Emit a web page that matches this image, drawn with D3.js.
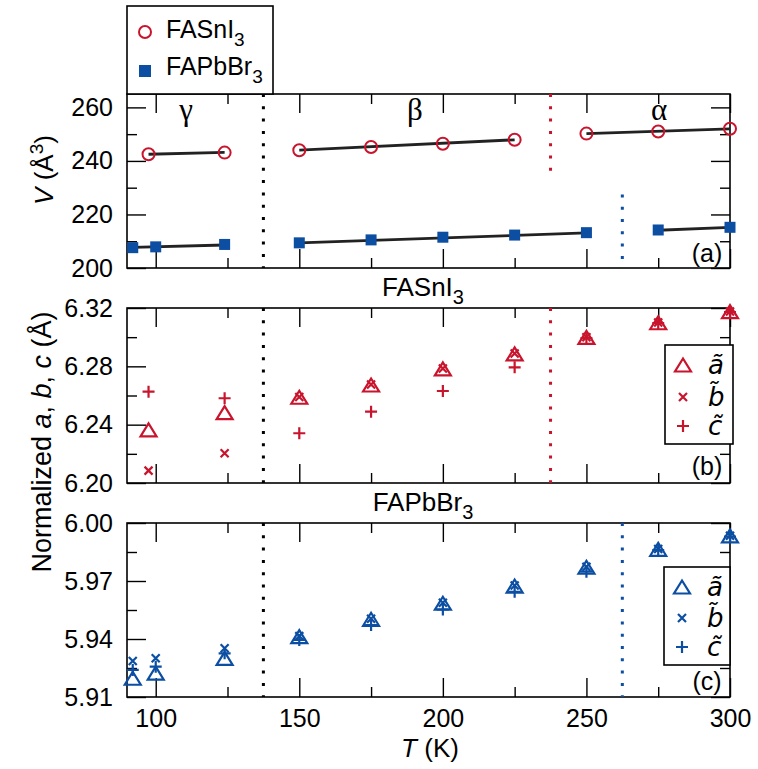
<!DOCTYPE html>
<html>
<head>
<meta charset="utf-8">
<script src="https://cdn.jsdelivr.net/npm/d3@7/dist/d3.min.js"></script>
<style>
  body { margin: 0; background: #fff; }
  text { font-family: "Liberation Sans", Arial, Helvetica, sans-serif; }
</style>
</head>
<body>
<svg id="chart" width="758" height="769"></svg>
<script>
// temperatures (K)
const temps_sn = [97.5, 124, 150, 175, 200, 225, 250, 275, 300];
const temps_pb = [92, 100, 124, 150, 175, 200, 225, 250, 275, 300];

// panel (a) volumes
const vol_sn = [242.5, 243.1, 244.0, 245.2, 246.4, 247.9, 250.2, 251.0, 252.0];
const vol_pb = [207.6, 207.9, 208.8, 209.4, 210.5, 211.5, 212.3, 213.2, 214.2, 215.2];

// linear fits per phase [T0, V0, T1, V1]
const fit_sn = [[97.5, 242.5, 124, 243.2], [150, 244.0, 225, 247.9], [250, 250.2, 300, 252.0]];
const fit_pb = [[92, 207.7, 124, 208.6], [150, 209.4, 250, 213.1], [275, 214.1, 300, 215.2]];

// panel (b) FASnI3 normalized lattice params
const a_sn = [6.2364, 6.2482, 6.2588, 6.2672, 6.2782, 6.2885, 6.2999, 6.3099, 6.3175];
const b_sn = [6.2085, 6.2204, 6.2590, 6.2675, 6.2785, 6.2888, 6.3000, 6.3100, 6.3176];
const c_sn = [6.2626, 6.2581, 6.2341, 6.2489, 6.2631, 6.2793, 6.2993, 6.3096, 6.3172];

// panel (c) FAPbBr3 normalized lattice params
const a_pb = [5.9197, 5.9223, 5.9300, 5.9412, 5.9502, 5.9585, 5.9674, 5.9771, 5.9864, 5.9933];
const b_pb = [5.9286, 5.9300, 5.9352, 5.9415, 5.9505, 5.9588, 5.9677, 5.9773, 5.9866, 5.9934];
const c_pb = [5.9240, 5.9257, 5.9326, 5.9395, 5.9472, 5.9553, 5.9644, 5.9748, 5.9860, 5.9930];

// phase transitions
const t_gamma_beta = 137.5;
const t_beta_alpha_sn = 237.5;
const t_beta_alpha_pb = 262.5;

const x_major = [100, 150, 200, 250, 300];
const x_minor = [125, 175, 225, 275];

const red = "#c8142c";
const blue = "#0b4ea2";
const fontSize = 25;

const svg = d3.select("#chart");
const x = d3.scaleLinear([90, 300], [127, 730]);

const panels = {
    a: { y: d3.scaleLinear([200, 265], [268, 94]), major: [200, 220, 240, 260], minor: [210, 230, 250], fmt: d3.format("d") },
    b: { y: d3.scaleLinear([6.20, 6.32], [483, 308]), major: [6.20, 6.24, 6.28, 6.32], minor: [6.22, 6.26, 6.30], fmt: d3.format(".2f") },
    c: { y: d3.scaleLinear([5.91, 6.00], [697, 523]), major: [5.91, 5.94, 5.97, 6.00], minor: [5.925, 5.955, 5.985], fmt: d3.format(".2f") }
};

function styleAxis(g) {
    g.select(".domain").remove();
    g.selectAll("line").attr("stroke", "#000").attr("stroke-width", 1.4);
    g.selectAll("text").attr("font-size", fontSize).attr("fill", "#000")
        .style("font-family", '"Liberation Sans", Arial, sans-serif');
}

function drawFrame(p, showX) {
    const top = p.y.range()[1], bottom = p.y.range()[0];
    const g = svg.append("g");
    g.append("rect")
        .attr("x", x.range()[0]).attr("y", top)
        .attr("width", x.range()[1] - x.range()[0]).attr("height", bottom - top)
        .attr("fill", "none").attr("stroke", "#000").attr("stroke-width", 1.6);

    [[x_major, -19], [x_minor, -10]].forEach(([vals, len]) => {
        g.append("g").attr("transform", `translate(0,${bottom})`)
            .call(d3.axisBottom(x).tickValues(vals).tickSizeInner(len).tickSizeOuter(0).tickFormat(""))
            .call(styleAxis);
        g.append("g").attr("transform", `translate(0,${top})`)
            .call(d3.axisTop(x).tickValues(vals).tickSizeInner(len).tickSizeOuter(0).tickFormat(""))
            .call(styleAxis);
    });
    [[p.major, -19], [p.minor, -10]].forEach(([vals, len]) => {
        g.append("g").attr("transform", `translate(${x.range()[0]},0)`)
            .call(d3.axisLeft(p.y).tickValues(vals).tickSizeInner(len).tickSizeOuter(0).tickFormat(""))
            .call(styleAxis);
        g.append("g").attr("transform", `translate(${x.range()[1]},0)`)
            .call(d3.axisRight(p.y).tickValues(vals).tickSizeInner(len).tickSizeOuter(0).tickFormat(""))
            .call(styleAxis);
    });
    // tick labels
    g.append("g").attr("transform", `translate(${x.range()[0]},0)`)
        .call(d3.axisLeft(p.y).tickValues(p.major).tickSize(0).tickPadding(14).tickFormat(p.fmt))
        .call(styleAxis);
    if (showX) {
        g.append("g").attr("transform", `translate(0,${bottom})`)
            .call(d3.axisBottom(x).tickValues(x_major).tickSize(0).tickPadding(12).tickFormat(d3.format("d")))
            .call(styleAxis);
    }
}

function dotted(p, t, color, y0, y1) {
    svg.append("line")
        .attr("x1", x(t)).attr("x2", x(t))
        .attr("y1", p.y(y0)).attr("y2", p.y(y1))
        .attr("stroke", color).attr("stroke-width", 3)
        .attr("stroke-dasharray", "3,9.3");
}

const tri = "M-8,6.5L8,6.5L0,-6.5Z";
const cross = "M-4,-4L4,4M-4,4L4,-4";
const plus = "M-6,0L6,0M0,-6L0,6";

function markers(p, temps, vals, path, color) {
    svg.append("g").selectAll("path")
        .data(temps.map((t, i) => [t, vals[i]]))
        .join("path")
        .attr("transform", d => `translate(${x(d[0])},${p.y(d[1])})`)
        .attr("d", path)
        .attr("fill", "none").attr("stroke", color).attr("stroke-width", 2.2);
}

function label(txt, px, py) {
    svg.append("text").attr("x", px).attr("y", py)
        .attr("text-anchor", "middle").attr("font-size", fontSize).text(txt);
}

// frames
drawFrame(panels.a, false);
drawFrame(panels.b, false);
drawFrame(panels.c, true);

// ---- panel (a) ----
const pa = panels.a;
dotted(pa, t_gamma_beta, "#000", 265, 200);
dotted(pa, t_beta_alpha_sn, red, 265, 233);
dotted(pa, t_beta_alpha_pb, blue, 227.5, 200);

[fit_sn, fit_pb].forEach(fits => {
    svg.append("g").selectAll("line").data(fits).join("line")
        .attr("x1", d => x(d[0])).attr("y1", d => pa.y(d[1]))
        .attr("x2", d => x(d[2])).attr("y2", d => pa.y(d[3]))
        .attr("stroke", "#222").attr("stroke-width", 2.8);
});

svg.append("g").selectAll("circle")
    .data(temps_sn.map((t, i) => [t, vol_sn[i]]))
    .join("circle")
    .attr("cx", d => x(d[0])).attr("cy", d => pa.y(d[1])).attr("r", 6)
    .attr("fill", "none").attr("stroke", red).attr("stroke-width", 2);

svg.append("g").selectAll("rect")
    .data(temps_pb.map((t, i) => [t, vol_pb[i]]))
    .join("rect")
    .attr("x", d => x(d[0]) - 5.5).attr("y", d => pa.y(d[1]) - 5.5)
    .attr("width", 11).attr("height", 11).attr("fill", blue);

const greek = [["γ", 186], ["β", 415], ["α", 659]];
greek.forEach(([s, px]) => {
    svg.append("text").attr("x", px).attr("y", 120).attr("text-anchor", "middle")
        .attr("font-size", 31).style("font-family", '"Liberation Serif", "DejaVu Serif", serif').text(s);
});
label("(a)", 707, 262);

// top legend
const leg = svg.append("g");
leg.append("rect").attr("x", 127).attr("y", 6).attr("width", 146).attr("height", 88)
    .attr("fill", "#fff").attr("stroke", "#000").attr("stroke-width", 1.6);
leg.append("circle").attr("cx", 145).attr("cy", 32).attr("r", 6)
    .attr("fill", "none").attr("stroke", red).attr("stroke-width", 2);
leg.append("rect").attr("x", 139).attr("y", 65).attr("width", 12).attr("height", 12).attr("fill", blue);
const t1 = leg.append("text").attr("x", 166).attr("y", 38).attr("font-size", fontSize);
t1.append("tspan").text("FASnI");
t1.append("tspan").attr("dy", 8).attr("font-size", 19).text("3");
const t2 = leg.append("text").attr("x", 166).attr("y", 75).attr("font-size", fontSize);
t2.append("tspan").text("FAPbBr");
t2.append("tspan").attr("dy", 8).attr("font-size", 19).text("3");

// ---- panel (b) ----
const pb = panels.b;
dotted(pb, t_gamma_beta, "#000", 6.32, 6.20);
dotted(pb, t_beta_alpha_sn, red, 6.32, 6.20);
markers(pb, temps_sn, a_sn, tri, red);
markers(pb, temps_sn, b_sn, cross, red);
markers(pb, temps_sn, c_sn, plus, red);

function title(txt, py) {
    const t = svg.append("text").attr("x", 423).attr("y", py).attr("text-anchor", "middle").attr("font-size", 26);
    t.append("tspan").text(txt);
    t.append("tspan").attr("dy", 8).attr("font-size", 20).text("3");
}
title("FASnI", 296);

function latticeLegend(bx, by, bw, bh, mx, ys, color) {
    const g = svg.append("g");
    g.append("rect").attr("x", bx).attr("y", by).attr("width", bw).attr("height", bh)
        .attr("fill", "#fff").attr("stroke", "#000").attr("stroke-width", 1.6);
    [tri, cross, plus].forEach((path, i) => {
        g.append("path").attr("transform", `translate(${mx},${ys[i]})`).attr("d", path)
            .attr("fill", "none").attr("stroke", color).attr("stroke-width", 2.2);
    });
    ["a\u0303", "b\u0303", "c\u0303"].forEach((s, i) => {
        g.append("text").attr("x", mx + 25).attr("y", ys[i] + 9)
            .attr("font-size", 26).attr("font-style", "italic")
            .style("font-family", '"DejaVu Sans", "Liberation Sans", sans-serif').text(s);
    });
}
latticeLegend(665, 345, 68, 99, 683, [365, 397, 426], red);
label("(b)", 707, 475);

// ---- panel (c) ----
const pc = panels.c;
dotted(pc, t_gamma_beta, "#000", 6.00, 5.91);
dotted(pc, t_beta_alpha_pb, blue, 6.00, 5.91);
markers(pc, temps_pb, a_pb, tri, blue);
markers(pc, temps_pb, b_pb, cross, blue);
markers(pc, temps_pb, c_pb, plus, blue);
title("FAPbBr", 511);
latticeLegend(664, 567, 66, 98, 682, [587, 618, 647], blue);
label("(c)", 707, 690);

// axis titles
const xt = svg.append("text").attr("x", 430).attr("y", 757).attr("text-anchor", "middle").attr("font-size", 26);
xt.append("tspan").attr("font-style", "italic").text("T");
xt.append("tspan").text(" (K)");

const vt = svg.append("text").attr("transform", "translate(53,170) rotate(-90)")
    .attr("text-anchor", "middle").attr("font-size", 26);
vt.append("tspan").attr("font-style", "italic").text("V");
vt.append("tspan").text(" (Å");
vt.append("tspan").attr("dy", -10).attr("font-size", 19).text("3");
vt.append("tspan").attr("dy", 10).text(")");

const nt = svg.append("text").attr("transform", "translate(51,442) rotate(-90)")
    .attr("text-anchor", "middle").attr("font-size", 27);
nt.append("tspan").text("Normalized ");
nt.append("tspan").attr("font-style", "italic").text("a");
nt.append("tspan").text(", ");
nt.append("tspan").attr("font-style", "italic").text("b");
nt.append("tspan").text(", ");
nt.append("tspan").attr("font-style", "italic").text("c");
nt.append("tspan").text(" (Å)");
</script>
</body>
</html>
